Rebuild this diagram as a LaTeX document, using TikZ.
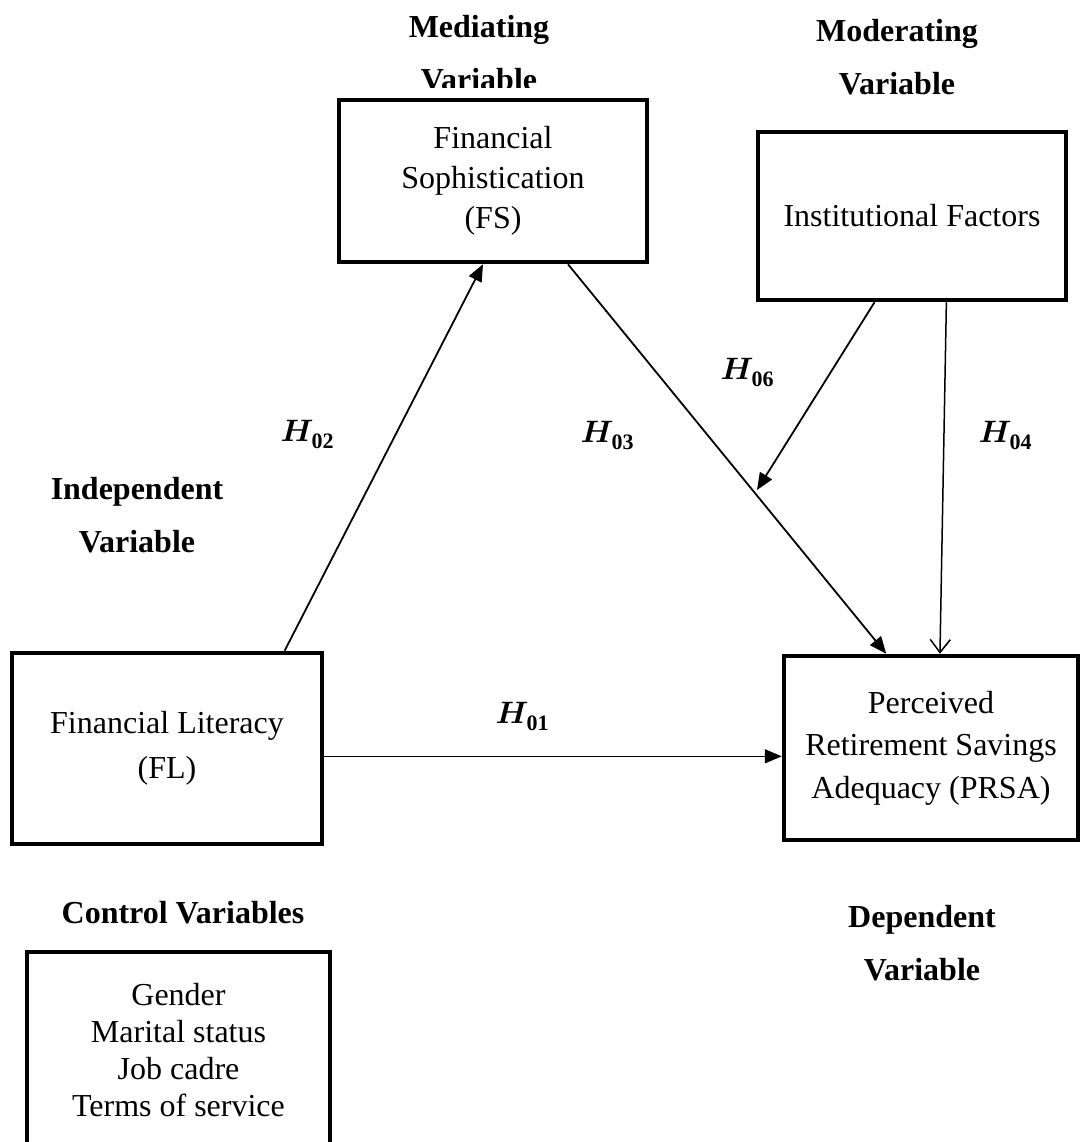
\documentclass[tikz,border=0pt]{standalone}
\usepackage{fix-cm}
\usepackage{amsmath}
\usepackage{bm}
\usepackage{fontspec}
\setmainfont{Liberation Serif}
\usetikzlibrary{calc,arrows.meta}
\newcommand{\hypo}[1]{$\bm{H}$\kern-2pt\raisebox{-7pt}{\fontsize{22}{22}\selectfont$\mathbf{#1}$}}
\tikzset{
  box/.style={draw, line width=4.5pt, inner sep=0pt, align=center},
  head/.style={font=\bfseries\fontsize{32}{53}\selectfont, align=center, inner sep=0pt},
  hyp/.style={font=\fontsize{31}{36}\selectfont, inner sep=0pt},
  conn/.style={line width=1.8pt, -{Triangle[length=17pt,width=14pt]}},
  openconn/.style={line width=1.5pt, -{Straight Barb[length=13pt,width=20pt,line width=1.5pt]}},
}
\begin{document}
\begin{tikzpicture}[x=1pt,y=-1pt]
\useasboundingbox (0,0) rectangle (1080,1142);
\clip (0,0) rectangle (1080,1142);

% headings
\node[head] (hmed) at (479,53.5) {Mediating\\Variable};
\node[head] (hmod) at (897,57.5) {Moderating\\Variable};
\node[head] (hind) at (137,515) {Independent\\Variable};
\node[head] (hdep) at (922,943.5) {Dependent\\Variable};
\node[head] (hctl) at (183,913) {Control Variables};

% white strip that cuts the bottom of the mediating label
\fill[white] (330,88) rectangle (660,99);

% boxes
\node[box, minimum width=308pt, minimum height=162pt, font=\fontsize{32}{40}\selectfont]
  (fs) at (493,181) {Financial\\Sophistication\\(FS)};
\node[box, minimum width=308pt, minimum height=168pt, font=\fontsize{32}{40}\selectfont]
  (inst) at (912,216) {Institutional Factors};
\node[box, minimum width=310pt, minimum height=191pt, font=\fontsize{32}{45}\selectfont]
  (fl) at (167,748.5) {Financial Literacy\\(FL)};
\node[box, minimum width=294pt, minimum height=184pt, font=\fontsize{32}{42.5}\selectfont]
  (prsa) at (931,748) {Perceived\\Retirement Savings\\Adequacy (PRSA)};
\node[box, minimum width=303pt, minimum height=196pt, font=\fontsize{32}{36.7}\selectfont]
  (ctl) at (178.5,1050) {Gender\\Marital status\\Job cadre\\Terms of service};

% connectors
\coordinate (h2s) at ($(fl.north west)!0.874!(fl.north east)$);
\coordinate (h2e) at ($(fs.south west)!0.468!(fs.south east)$);
\draw[conn] (h2s) -- (h2e);

\coordinate (h3s) at ($(fs.south west)!0.74!(fs.south east)$);
\coordinate (h3e) at ($(prsa.north west)!0.35!(prsa.north east)$);
\draw[conn] (h3s) -- (h3e);

\coordinate (h6s) at ($(inst.south west)!0.38!(inst.south east)$);
\coordinate (h6e) at (757,490);
\draw[conn] (h6s) -- (h6e);

\coordinate (h4s) at ($(inst.south west)!0.61!(inst.south east)$);
\coordinate (h4e) at ($(prsa.north west)!0.53!(prsa.north east)$);
\draw[openconn] (h4s) -- (h4e);

\coordinate (h1s) at ($(fl.north east)!0.54!(fl.south east)$);
\draw[conn, line width=1.5pt] (h1s) -- (h1s -| prsa.west);

% hypothesis labels
\node[hyp] (l01) at (522,716) {\hypo{01}};
\node[hyp] (l02) at (307,434) {\hypo{02}};
\node[hyp] (l03) at (607,435) {\hypo{03}};
\node[hyp] (l06) at (747,372) {\hypo{06}};
\node[hyp] (l04) at (1005,435) {\hypo{04}};
\end{tikzpicture}
\end{document}
